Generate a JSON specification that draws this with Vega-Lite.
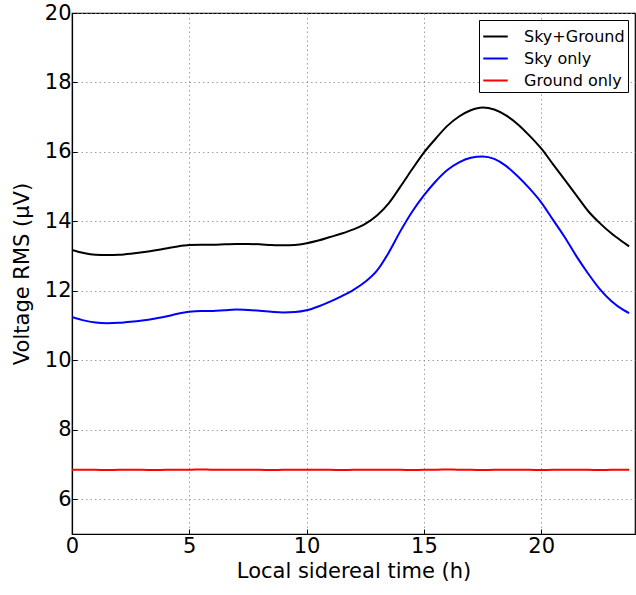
{
  "$schema": "https://vega.github.io/schema/vega-lite/v6.json",
  "width": 563,
  "height": 521,
  "autosize": "none",
  "padding": {"left": 72, "top": 13, "right": 1, "bottom": 61},
  "background": "white",
  "config": {
    "font": "DejaVu Sans",
    "view": {"stroke": "black", "strokeWidth": 1.2},
    "axis": {
      "domainColor": "black",
      "domainWidth": 1.2,
      "tickColor": "black",
      "tickSize": -5,
      "labelFontSize": 21,
      "labelColor": "black",
      "titleFontSize": 21,
      "titleFontWeight": "normal",
      "titleColor": "black",
      "gridColor": "#888888",
      "gridDash": [1.5, 3],
      "gridWidth": 0.8,
      "gridOpacity": 1
    }
  },
  "data": {
    "values": [
      {"t": 0, "sg": 13.18, "s": 11.25, "g": 6.85},
      {"t": 0.5, "sg": 13.09, "s": 11.15, "g": 6.85},
      {"t": 1, "sg": 13.04, "s": 11.09, "g": 6.85},
      {"t": 1.5, "sg": 13.03, "s": 11.07, "g": 6.84},
      {"t": 2, "sg": 13.04, "s": 11.08, "g": 6.85},
      {"t": 2.5, "sg": 13.07, "s": 11.11, "g": 6.85},
      {"t": 3, "sg": 13.11, "s": 11.15, "g": 6.85},
      {"t": 3.5, "sg": 13.16, "s": 11.2, "g": 6.84},
      {"t": 4, "sg": 13.22, "s": 11.26, "g": 6.85},
      {"t": 4.5, "sg": 13.28, "s": 11.34, "g": 6.85},
      {"t": 5, "sg": 13.32, "s": 11.4, "g": 6.85},
      {"t": 5.5, "sg": 13.33, "s": 11.42, "g": 6.86},
      {"t": 6, "sg": 13.33, "s": 11.42, "g": 6.85},
      {"t": 6.5, "sg": 13.34, "s": 11.44, "g": 6.85},
      {"t": 7, "sg": 13.35, "s": 11.46, "g": 6.85},
      {"t": 7.5, "sg": 13.35, "s": 11.45, "g": 6.85},
      {"t": 8, "sg": 13.34, "s": 11.43, "g": 6.85},
      {"t": 8.5, "sg": 13.32, "s": 11.4, "g": 6.84},
      {"t": 9, "sg": 13.31, "s": 11.38, "g": 6.85},
      {"t": 9.5, "sg": 13.32, "s": 11.39, "g": 6.85},
      {"t": 10, "sg": 13.37, "s": 11.44, "g": 6.85},
      {"t": 10.5, "sg": 13.45, "s": 11.55, "g": 6.85},
      {"t": 11, "sg": 13.55, "s": 11.69, "g": 6.85},
      {"t": 11.5, "sg": 13.65, "s": 11.85, "g": 6.84},
      {"t": 12, "sg": 13.77, "s": 12.03, "g": 6.85},
      {"t": 12.5, "sg": 13.93, "s": 12.26, "g": 6.85},
      {"t": 13, "sg": 14.17, "s": 12.58, "g": 6.85},
      {"t": 13.5, "sg": 14.52, "s": 13.1, "g": 6.85},
      {"t": 14, "sg": 15.0, "s": 13.72, "g": 6.85},
      {"t": 14.5, "sg": 15.5, "s": 14.28, "g": 6.84},
      {"t": 15, "sg": 15.98, "s": 14.75, "g": 6.85},
      {"t": 15.5, "sg": 16.38, "s": 15.15, "g": 6.85},
      {"t": 16, "sg": 16.75, "s": 15.48, "g": 6.86},
      {"t": 16.5, "sg": 17.02, "s": 15.7, "g": 6.85},
      {"t": 17, "sg": 17.2, "s": 15.83, "g": 6.85},
      {"t": 17.5, "sg": 17.28, "s": 15.87, "g": 6.84},
      {"t": 18, "sg": 17.22, "s": 15.8, "g": 6.85},
      {"t": 18.5, "sg": 17.05, "s": 15.6, "g": 6.85},
      {"t": 19, "sg": 16.8, "s": 15.3, "g": 6.85},
      {"t": 19.5, "sg": 16.47, "s": 14.95, "g": 6.85},
      {"t": 20, "sg": 16.1, "s": 14.55, "g": 6.84},
      {"t": 20.5, "sg": 15.65, "s": 14.05, "g": 6.85},
      {"t": 21, "sg": 15.2, "s": 13.55, "g": 6.85},
      {"t": 21.5, "sg": 14.75, "s": 13.0, "g": 6.85},
      {"t": 22, "sg": 14.3, "s": 12.5, "g": 6.85},
      {"t": 22.5, "sg": 13.95, "s": 12.05, "g": 6.84},
      {"t": 23, "sg": 13.65, "s": 11.7, "g": 6.85},
      {"t": 23.5, "sg": 13.4, "s": 11.45, "g": 6.85},
      {"t": 23.75, "sg": 13.28, "s": 11.36, "g": 6.85}
    ]
  },
  "transform": [
    {"fold": ["sg", "s", "g"], "as": ["key", "v"]},
    {"lookup": "key", "from": {"data": {"values": [
      {"key": "sg", "series": "Sky+Ground"},
      {"key": "s", "series": "Sky only"},
      {"key": "g", "series": "Ground only"}
    ]}, "key": "key", "fields": ["series"]}}
  ],
  "mark": {"type": "line", "strokeWidth": 2, "interpolate": "monotone", "clip": true},
  "encoding": {
    "x": {
      "field": "t", "type": "quantitative",
      "scale": {"domain": [0, 24], "nice": false},
      "axis": {"values": [0, 5, 10, 15, 20], "title": "Local sidereal time (h)", "titlePadding": 4, "labelPadding": 6, "labelFlush": false}
    },
    "y": {
      "field": "v", "type": "quantitative",
      "scale": {"domain": [5, 20], "nice": false, "zero": false},
      "axis": {"values": [6, 8, 10, 12, 14, 16, 18, 20], "title": "Voltage RMS (μV)", "titlePadding": 12, "labelPadding": 6}
    },
    "color": {
      "field": "series", "type": "nominal",
      "scale": {"domain": ["Sky+Ground", "Sky only", "Ground only"], "range": ["#000000", "#0000ff", "#ff0000"]},
      "legend": {
        "title": null,
        "orient": "top-right",
        "offset": 7,
        "symbolType": "stroke",
        "symbolStrokeWidth": 2,
        "symbolSize": 600,
        "labelFontSize": 16,
        "labelColor": "black",
        "fillColor": "white",
        "strokeColor": "black",
        "padding": 3,
        "rowPadding": 0,
        "labelOffset": 15
      }
    },
    "order": {"field": "key"}
  }
}
